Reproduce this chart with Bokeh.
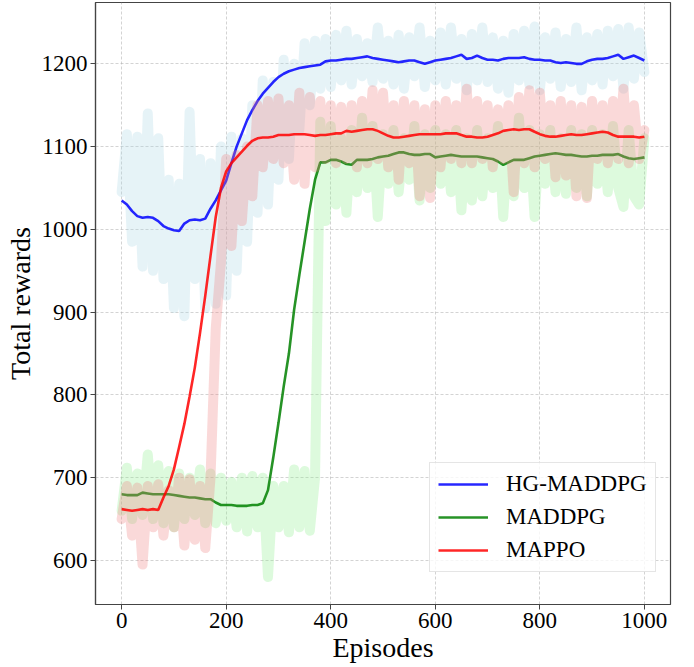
from bokeh.plotting import figure
from bokeh.models import Range1d, Legend, LegendItem, FixedTicker
from bokeh.embed import file_html
from bokeh.resources import INLINE

# ---------------- data ----------------
episodes = list(range(0, 1001, 10))

hg_maddpg_smooth = [
    1035, 1030, 1022, 1016, 1014, 1015, 1014, 1010, 1004, 1001,
    999, 998, 1007, 1011, 1012, 1011, 1013, 1025, 1035, 1047,
    1059, 1080, 1100, 1116, 1132, 1144, 1155, 1164, 1171, 1178,
    1184, 1188, 1191, 1193, 1195, 1196, 1197, 1198, 1199, 1203,
    1204, 1204, 1205, 1206, 1206, 1207, 1208, 1209, 1207, 1206,
    1205, 1204, 1203, 1202, 1203, 1204, 1204, 1202, 1200, 1202,
    1204, 1205, 1206, 1207, 1209, 1211, 1206, 1207, 1210, 1207,
    1205, 1205, 1204, 1206, 1207, 1207, 1207, 1208, 1206, 1205,
    1205, 1204, 1204, 1202, 1201, 1202, 1201, 1200, 1200, 1203,
    1205, 1206, 1206, 1207, 1209, 1211, 1206, 1208, 1210, 1207,
    1204]

hg_maddpg_raw = [
    1045, 1115, 985, 1112, 955, 1140, 950, 1110, 940, 1060,
    905, 1055, 895, 1142, 940, 1085, 905, 1080, 910, 1100,
    920, 1112, 950, 1110, 985, 1150, 1020, 1180, 1030, 1178,
    1060, 1205, 1085, 1200, 1120, 1225, 1150, 1228, 1170, 1230,
    1172, 1235, 1180, 1240, 1175, 1230, 1185, 1225, 1178, 1244,
    1182, 1228, 1175, 1235, 1170, 1232, 1185, 1244, 1172, 1228,
    1180, 1238, 1175, 1244, 1182, 1230, 1168, 1236, 1180, 1244,
    1178, 1232, 1170, 1228, 1165, 1236, 1180, 1240, 1175, 1245,
    1168, 1232, 1182, 1238, 1172, 1230, 1178, 1244, 1168, 1232,
    1180, 1236, 1175, 1240, 1185, 1242, 1170, 1244, 1182, 1238,
    1190]

maddpg_smooth = [
    680, 679, 679, 679, 682, 681, 680, 680, 680, 680,
    679, 678, 677, 676, 676, 675, 674, 674, 670, 667,
    667, 667, 666, 666, 666, 667, 667, 669, 685, 724,
    766, 810, 850, 903, 945, 985, 1025, 1060, 1081, 1081,
    1084, 1084, 1082, 1079, 1078, 1084, 1084, 1084, 1085, 1087,
    1088, 1089, 1091, 1093, 1093, 1091, 1090, 1090, 1091, 1091,
    1087, 1088, 1089, 1090, 1089, 1088, 1088, 1088, 1088, 1087,
    1086, 1085, 1082, 1078, 1081, 1084, 1084, 1084, 1086, 1088,
    1089, 1090, 1091, 1092, 1091, 1090, 1090, 1089, 1088, 1088,
    1089, 1089, 1090, 1090, 1090, 1091, 1088, 1086, 1085, 1086,
    1087]

maddpg_raw = [
    660, 712, 650, 705, 655, 728, 650, 715, 645, 708,
    640, 705, 650, 700, 655, 710, 645, 705, 645, 700,
    648, 695, 640, 700, 635, 702, 640, 700, 580, 690,
    640, 690, 634, 710, 640, 708, 636, 700, 1130, 1010,
    1125, 1030, 1110, 1020, 1120, 1045, 1135, 1050, 1125, 1015,
    1115, 1055, 1120, 1045, 1110, 1060, 1125, 1035, 1115, 1050,
    1120, 1055, 1115, 1045, 1120, 1023, 1110, 1035, 1120, 1040,
    1110, 1050, 1125, 1015, 1115, 1040, 1135, 1050, 1120, 1015,
    1115, 1055, 1120, 1045, 1110, 1043, 1120, 1050, 1115, 1040,
    1120, 1055, 1115, 1045, 1125, 1050, 1027, 1120, 1040, 1030,
    1110]

mappo_smooth = [
    662, 661, 660, 661, 662, 661, 662, 661, 676, 690,
    710, 737, 765, 798, 833, 875, 920, 968, 1015, 1050,
    1070, 1080, 1087, 1094, 1101, 1107, 1110, 1111, 1111, 1112,
    1114, 1114, 1114, 1115, 1115, 1115, 1114, 1113, 1114, 1114,
    1115, 1116, 1116, 1119, 1118, 1119, 1120, 1121, 1121, 1119,
    1116, 1113, 1111, 1111, 1112, 1113, 1114, 1115, 1115, 1115,
    1115, 1115, 1116, 1116, 1116, 1114, 1112, 1112, 1111, 1111,
    1112, 1114, 1116, 1119, 1120, 1121, 1120, 1121, 1121, 1118,
    1115, 1113, 1112, 1112, 1113, 1114, 1115, 1114, 1114, 1115,
    1116, 1117, 1118, 1117, 1114, 1112, 1112, 1112, 1112, 1111,
    1112]

mappo_raw = [
    650, 690, 630, 688, 595, 690, 640, 692, 630, 685,
    640, 700, 618, 698, 625, 690, 615, 700, 880, 960,
    1085, 980, 1090, 1010, 1100, 1040, 1150, 1075, 1155, 1085,
    1158, 1080, 1150, 1060, 1165, 1055, 1160, 1075, 1155, 1085,
    1150, 1080, 1148, 1085, 1150, 1075, 1155, 1080, 1168, 1085,
    1165, 1075, 1150, 1060, 1155, 1080, 1150, 1040, 1145, 1038,
    1150, 1075, 1155, 1085, 1150, 1080, 1170, 1080, 1155, 1085,
    1150, 1075, 1145, 1085, 1150, 1045, 1160, 1080, 1168, 1075,
    1165, 1085, 1150, 1063, 1155, 1065, 1150, 1040, 1148, 1038,
    1155, 1085, 1150, 1080, 1155, 1085, 1170, 1080, 1150, 1085,
    1120]

series_names = ["HG-MADDPG", "MADDPG", "MAPPO"]
x_ticks = [0, 200, 400, 600, 800, 1000]
y_ticks = [600, 700, 800, 900, 1000, 1100, 1200]

# ---------------- figure ----------------
FONT = "Liberation Serif"
p = figure(frame_width=575, frame_height=602,
           x_range=Range1d(-50, 1050), y_range=Range1d(546.8, 1274.1),
           output_backend="svg", toolbar_location=None,
           min_border_left=95, min_border_right=16,
           min_border_top=2, min_border_bottom=55,
           background_fill_color="white", border_fill_color="white")

p.outline_line_color = "#444444"
p.outline_line_width = 1.2

p.xaxis.ticker = FixedTicker(ticks=x_ticks)
p.yaxis.ticker = FixedTicker(ticks=y_ticks)
for ax in (p.xaxis[0], p.yaxis[0]):
    ax.axis_line_color = "#444444"
    ax.axis_line_width = 1.2
    ax.major_tick_line_color = "#444444"
    ax.major_tick_out = 5
    ax.major_tick_in = 0
    ax.minor_tick_line_color = None
    ax.major_label_text_font = FONT
    ax.major_label_text_font_size = "23px"
    ax.major_label_text_color = "black"
    ax.major_label_standoff = 3
    ax.axis_label_text_font = FONT
    ax.axis_label_text_font_size = "28px"
    ax.axis_label_text_font_style = "normal"
    ax.axis_label_text_color = "black"
p.xaxis.axis_label = "Episodes"
p.yaxis.axis_label = "Total rewards"
p.xaxis.axis_label_standoff = 1
p.yaxis.axis_label_standoff = 3

p.grid.grid_line_color = "#b0b0b0"
p.grid.grid_line_alpha = 0.7
p.grid.grid_line_dash = "3 2"
p.grid.grid_line_width = 0.8

raw_style = dict(line_width=10, line_alpha=0.3, line_join="round", line_cap="round")
smooth_style = dict(line_width=2.6, line_alpha=0.85)

p.line(episodes, hg_maddpg_raw, line_color="lightblue", **raw_style)
r_hg = p.line(episodes, hg_maddpg_smooth, line_color="blue", **smooth_style)
p.line(episodes, maddpg_raw, line_color="lightgreen", **raw_style)
r_md = p.line(episodes, maddpg_smooth, line_color="green", **smooth_style)
p.line(episodes, mappo_raw, line_color="lightcoral", **raw_style)
r_mp = p.line(episodes, mappo_smooth, line_color="red", **smooth_style)

legend = Legend(items=[LegendItem(label=series_names[0], renderers=[r_hg]),
                       LegendItem(label=series_names[1], renderers=[r_md]),
                       LegendItem(label=series_names[2], renderers=[r_mp])],
                location=(334, 32))
legend.label_text_font = FONT
legend.label_text_font_size = "23px"
legend.label_text_color = "black"
legend.label_standoff = 18
legend.glyph_width = 50
legend.glyph_height = 22
legend.label_height = 22
legend.spacing = 7
legend.padding = 8
legend.margin = 0
legend.border_line_color = "#cccccc"
legend.border_line_width = 1
legend.background_fill_color = "white"
legend.background_fill_alpha = 0.8
p.add_layout(legend, "center")

open("out.html", "w").write(file_html(p, INLINE))
